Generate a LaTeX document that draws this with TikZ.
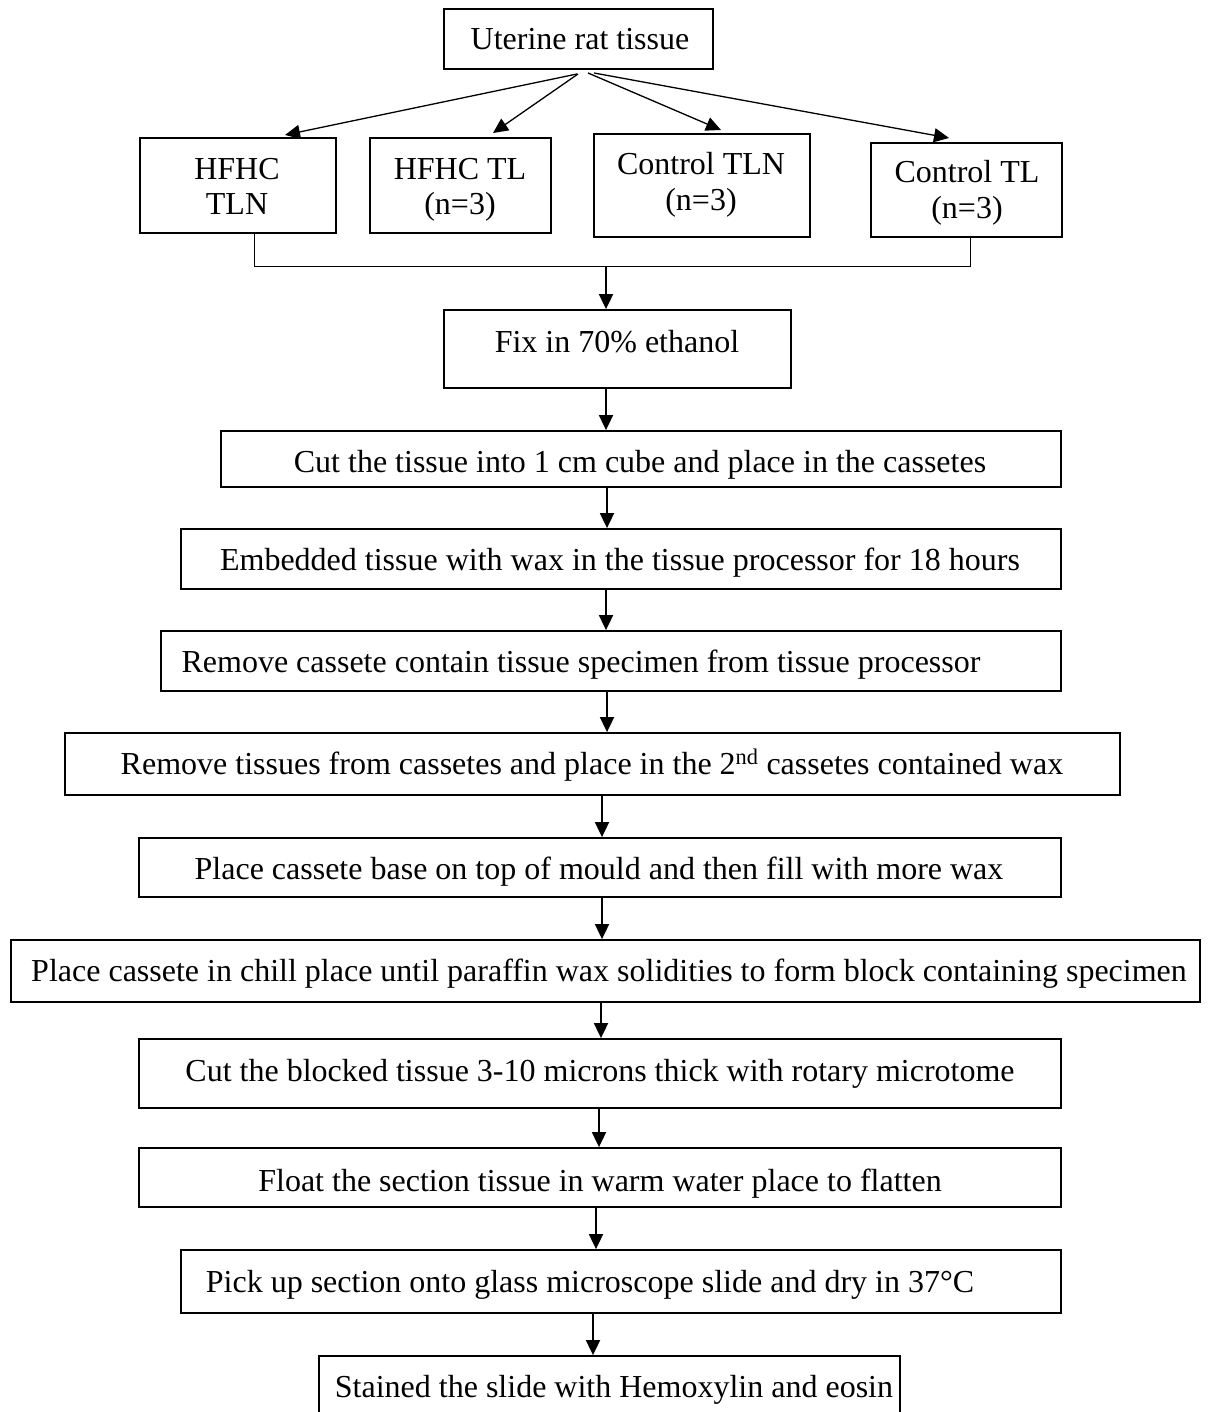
\documentclass[tikz,border=0pt]{standalone}
\usepackage{fontspec}
\setmainfont{Liberation Serif}
\usetikzlibrary{arrows.meta,fit}
\begin{document}
\begin{tikzpicture}[x=1pt,y=-1pt,
  box/.style={draw, line width=1.8pt, inner sep=0pt},
  lbl/.style={anchor=base, font=\fontsize{32}{36}\selectfont, inner sep=0pt},
  arr/.style={line width=1.8pt, -{Triangle[length=15pt,width=14pt]}},
  fan/.style={line width=1.3pt, -{Triangle[length=15pt,width=14pt]}},
  link/.style={line width=1pt}]
\useasboundingbox (0,0) rectangle (1207,1412);
\begin{scope}
\clip (0,0) rectangle (1207,1412);

% source
\node[box, fit={(444,9) (713,69)}] (src) {};
\node[lbl] (src-t) at (580,50) {Uterine rat tissue};

% four groups
\node[box, fit={(140,138) (336,233)}] (g1) {};
\node[lbl] (g1-a) at (237,180) {HFHC};
\node[lbl] (g1-b) at (237,215) {TLN};

\node[box, fit={(370,138) (551,233)}] (g2) {};
\node[lbl] (g2-a) at (460,180) {HFHC TL};
\node[lbl] (g2-b) at (460,215) {(n=3)};

\node[box, fit={(594,134) (810,237)}] (g3) {};
\node[lbl] (g3-a) at (701,175) {Control TLN};
\node[lbl] (g3-b) at (701,211) {(n=3)};

\node[box, fit={(871,143) (1062,237)}] (g4) {};
\node[lbl] (g4-a) at (967,183) {Control TL};
\node[lbl] (g4-b) at (967,219) {(n=3)};

% processing steps
\node[box, fit={(444,310) (791,388)}] (fix) {};
\node[lbl] (fix-t) at (617,352) {Fix in 70\% ethanol};

\node[box, fit={(221,431) (1061,487)}] (cut) {};
\node[lbl] (cut-t) at (640,472) {Cut the tissue into 1 cm cube and place in the cassetes};

\node[box, fit={(181,529) (1061,589)}] (emb) {};
\node[lbl] (emb-t) at (620,570) {Embedded tissue with wax in the tissue processor for 18 hours};

\node[box, fit={(161,631) (1061,691)}] (rem1) {};
\node[lbl] (rem1-t) at (581,672) {Remove cassete contain tissue specimen from tissue processor};

\node[box, fit={(65,733) (1120,795)}] (rem2) {};
\node[lbl] (rem2-t) at (592,774) {Remove tissues from cassetes and place in the 2\textsuperscript{nd} cassetes contained wax};

\node[box, fit={(139,838) (1061,897)}] (base) {};
\node[lbl] (base-t) at (599,879) {Place cassete base on top of mould and then fill with more wax};

\node[box, fit={(11,940) (1200,1002)}] (chill) {};
\node[lbl] (chill-t) at (609,981) {Place cassete in chill place until paraffin wax solidities to form block containing specimen};

\node[box, fit={(139,1039) (1061,1108)}] (cutb) {};
\node[lbl] (cutb-t) at (600,1081) {Cut the blocked tissue 3-10 microns thick with rotary microtome};

\node[box, fit={(139,1148) (1061,1207)}] (float) {};
\node[lbl] (float-t) at (600,1191) {Float the section tissue in warm water place to flatten};

\node[box, fit={(181,1250) (1061,1313)}] (pick) {};
\node[lbl] (pick-t) at (590,1292) {Pick up section onto glass microscope slide and dry in 37°C};

\node[box, fit={(319,1356) (900,1440)}] (stain) {};
\node[lbl] (stain-t) at (614,1397) {Stained the slide with Hemoxylin and eosin};

% fan-out from the source box
\coordinate (s1) at (577,74);
\coordinate (s2) at (578,74);
\coordinate (s3) at (588,73);
\coordinate (s4) at (594,73);
\coordinate (t1) at (285,135);
\coordinate (t2) at (493,133);
\coordinate (t3) at (721,130);
\coordinate (t4) at (949,138);
\draw[fan] (s1) -- (t1);
\draw[fan] (s2) -- (t2);
\draw[fan] (s3) -- (t3);
\draw[fan] (s4) -- (t4);

% bracket joining the groups
\coordinate (jl) at (254,267);
\coordinate (jr) at (970,267);
\coordinate (join) at (606,267);
\draw[link] (g1.south -| jl) -- (jl) -- (jr) -- (g4.south -| jr);
\draw[arr] (join) -- (fix.north -| join);

% vertical flow
\coordinate (a1) at (606,0);
\coordinate (a2) at (607,0);
\coordinate (a3) at (606,0);
\coordinate (a4) at (607,0);
\coordinate (a5) at (602,0);
\coordinate (a6) at (602,0);
\coordinate (a7) at (601,0);
\coordinate (a8) at (599,0);
\coordinate (a9) at (596,0);
\coordinate (a10) at (593,0);
\draw[arr] (fix.south -| a1) -- (cut.north -| a1);
\draw[arr] (cut.south -| a2) -- (emb.north -| a2);
\draw[arr] (emb.south -| a3) -- (rem1.north -| a3);
\draw[arr] (rem1.south -| a4) -- (rem2.north -| a4);
\draw[arr] (rem2.south -| a5) -- (base.north -| a5);
\draw[arr] (base.south -| a6) -- (chill.north -| a6);
\draw[arr] (chill.south -| a7) -- (cutb.north -| a7);
\draw[arr] (cutb.south -| a8) -- (float.north -| a8);
\draw[arr] (float.south -| a9) -- (pick.north -| a9);
\draw[arr] (pick.south -| a10) -- (stain.north -| a10);
\end{scope}
\end{tikzpicture}
\end{document}
